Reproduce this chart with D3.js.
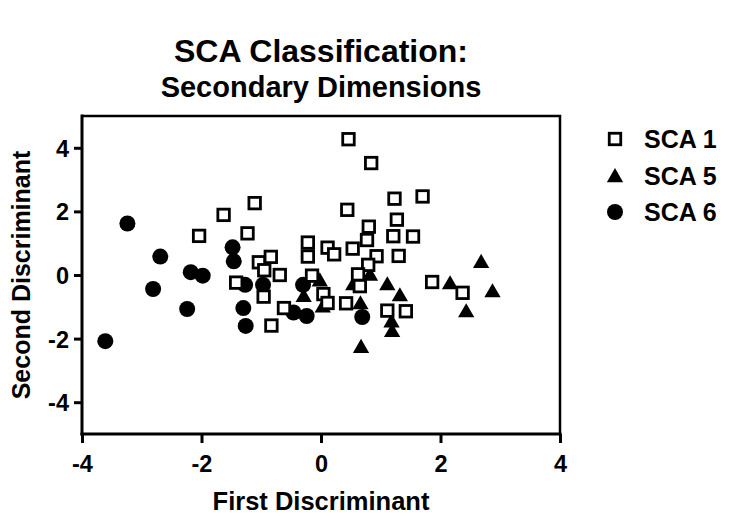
<!DOCTYPE html>
<html><head><meta charset="utf-8">
<script src="https://cdn.jsdelivr.net/npm/d3@7"></script>
<style>body{margin:0;background:#fff}svg text{font-family:"Liberation Sans",Arial,sans-serif;font-weight:bold}</style>
</head><body><div id="chart"></div>
<script>
const seriesNames = ["SCA 1", "SCA 5", "SCA 6"];
const sca1X = [0.46,0.84,-1.11,0.44,1.23,1.70,-1.63,-2.04,1.27,-1.23,0.80,1.21,1.54,-0.22,-0.22,0.11,0.22,0.53,0.77,0.93,1.30,-0.84,-1.04,-0.95,-0.69,0.79,0.62,-0.15,-1.42,-0.96,-0.62,-0.83,0.04,0.11,0.42,0.65,1.11,1.42,1.86,2.37];
const sca1Y = [4.27,3.52,2.26,2.05,2.40,2.47,1.89,1.23,1.74,1.31,1.52,1.22,1.21,1.02,0.58,0.86,0.65,0.83,1.10,0.59,0.60,0.57,0.40,0.15,0.00,0.32,0.02,-0.02,-0.24,-0.68,-1.04,-1.59,-0.60,-0.88,-0.89,-0.35,-1.12,-1.14,-0.22,-0.56];
const sca5X = [2.68,2.16,2.87,2.43,1.32,1.11,1.18,1.19,0.82,0.54,0.66,0.67,-0.29,-0.02,0.03];
const sca5Y = [0.40,-0.27,-0.52,-1.15,-0.65,-0.30,-1.47,-1.77,0.00,-0.30,-0.90,-2.27,-0.67,-0.18,-1.00];
const sca6X = [-3.24,-2.69,-1.48,-1.46,-2.18,-1.98,-2.81,-2.24,-3.61,-1.27,-0.97,-1.30,-1.26,-0.46,-0.24,-0.30,0.69];
const sca6Y = [1.62,0.58,0.87,0.43,0.09,-0.02,-0.44,-1.07,-2.08,-0.31,-0.31,-1.04,-1.60,-1.18,-1.29,-0.31,-1.32];
const xTicks = [-4,-2,0,2,4];
const yTicks = [-4,-2,0,2,4];
const titleLines = ["SCA Classification:", "Secondary Dimensions"];
const xTitle = "First Discriminant";
const yTitle = "Second Discriminant";

const W = 729, H = 523;
const m = {left: 82, right: 169, top: 116, bottom: 89};
const svg = d3.select("#chart").append("svg").attr("width", W).attr("height", H);
const x = d3.scaleLinear().domain([-4, 4]).range([m.left, W - m.right]);
const y = d3.scaleLinear().domain([-5, 5]).range([H - m.bottom, m.top]);

// frame top/right
svg.append("path").attr("d", `M${x(-4)},${y(5)}H${x(4)}V${y(-5)}`)
  .attr("fill", "none").attr("stroke", "#000").attr("stroke-width", 2.5);

const fmt = d => String(d);
const xAxis = svg.append("g").attr("transform", `translate(0,${y(-5)})`)
  .call(d3.axisBottom(x).tickValues(xTicks).tickFormat(fmt).tickSize(9).tickPadding(5).tickSizeOuter(0));
const yAxis = svg.append("g").attr("transform", `translate(${x(-4)},0)`)
  .call(d3.axisLeft(y).tickValues(yTicks).tickFormat(fmt).tickSize(8).tickPadding(5).tickSizeOuter(0));
[xAxis, yAxis].forEach(g => {
  g.select(".domain").attr("stroke", "#000").attr("stroke-width", 3);
  g.selectAll(".tick line").attr("stroke", "#000").attr("stroke-width", 3);
  g.selectAll(".tick text").attr("fill", "#000").style("font-size", "23.5px")
    .style("font-family", "'Liberation Sans', Arial, sans-serif").style("font-weight", "bold");
});
xAxis.selectAll(".tick text").attr("dy", null).attr("y", 38);
yAxis.selectAll(".tick text").attr("dy", "0.36em");
// extend axis lines to cover corners
xAxis.select(".domain").attr("d", `M${x(-4)-1.5},0H${x(4)+1.5}`);
yAxis.select(".domain").attr("d", `M0,${y(-5)+1.5}V${y(5)-1.5}`);

const triangle = d3.symbol().type(d3.symbolTriangle).size(115);
const g = svg.append("g");
// circles
g.selectAll("circle.s6").data(d3.range(sca6X.length)).join("circle")
  .attr("cx", i => x(sca6X[i])).attr("cy", i => y(sca6Y[i])).attr("r", 8).attr("fill", "#000");
// triangles
g.selectAll("path.s5").data(d3.range(sca5X.length)).join("path")
  .attr("transform", i => `translate(${x(sca5X[i])},${y(sca5Y[i])+1})`).attr("d", triangle).attr("fill", "#000");
// squares
g.selectAll("rect.s1").data(d3.range(sca1X.length)).join("rect")
  .attr("x", i => x(sca1X[i]) - 5.75).attr("y", i => y(sca1Y[i]) - 5.75)
  .attr("width", 11.5).attr("height", 11.5).attr("fill", "#fff").attr("stroke", "#000").attr("stroke-width", 2.8);

// legend
const lx = 615, ly = [139, 176.5, 212];
const lg = svg.append("g");
lg.append("rect").attr("x", lx - 5.75).attr("y", ly[0] - 5.75).attr("width", 11.5).attr("height", 11.5)
  .attr("fill", "#fff").attr("stroke", "#000").attr("stroke-width", 2.8);
lg.append("path").attr("transform", `translate(${lx},${ly[1]+1})`).attr("d", triangle).attr("fill", "#000");
lg.append("circle").attr("cx", lx).attr("cy", ly[2]).attr("r", 8).attr("fill", "#000");
seriesNames.forEach((s, i) => lg.append("text").attr("x", 644).attr("y", ly[i] + 8.5)
  .style("font-size", "25px").text(s));

// titles
svg.append("text").attr("x", 321).attr("y", 62).attr("text-anchor", "middle").style("font-size", "32px").text(titleLines[0]);
svg.append("text").attr("x", 321).attr("y", 97).attr("text-anchor", "middle").style("font-size", "29px").text(titleLines[1]);
svg.append("text").attr("x", 321).attr("y", 510).attr("text-anchor", "middle").style("font-size", "25.5px").text(xTitle);
svg.append("text").attr("transform", `translate(30,275) rotate(-90)`).attr("text-anchor", "middle").style("font-size", "25px").text(yTitle);
</script></body></html>
